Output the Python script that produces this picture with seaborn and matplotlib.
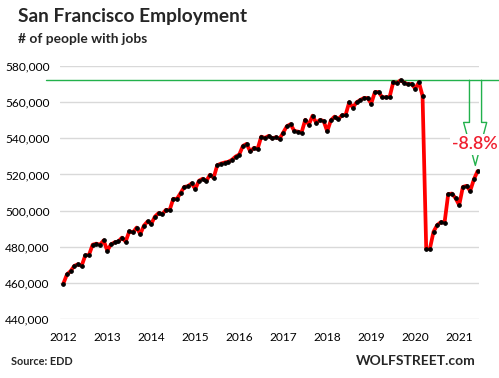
import numpy as np
import pandas as pd
import matplotlib
matplotlib.use("Agg")
import matplotlib.pyplot as plt
import seaborn as sns
from matplotlib.transforms import blended_transform_factory
from matplotlib.ticker import FuncFormatter

# ---- data (monthly, Jan 2012 .. Jun 2021), number of people with jobs ----
jobs_2012_2013 = [459500, 464700, 466500, 469400, 470300, 469400, 475200, 475400,
                  481100, 481700, 481100, 483500, 477800, 481300, 482400, 482900,
                  485000, 482800, 488500, 487900]
jobs_2013_2015 = [490600, 487000, 491700, 494000, 492600, 496700, 498600, 498000,
                  500400, 500200, 506500, 506500, 509700, 513100, 513500, 515000,
                  512000, 516500, 517600]
jobs_2015_2016 = [516300, 519800, 518100, 525100, 526000, 526600, 527000, 528100,
                  529900, 531000, 535800, 536900, 532700, 534700, 534100, 540900,
                  540200, 541300, 539900]
jobs_2016_2018 = [540600, 539700, 543200, 546700, 547800, 544100, 543700, 543200,
                  550200, 547600, 552500, 548500, 550200, 549600, 543900, 550000,
                  552000, 550600, 552700, 552900]
jobs_2018_2020 = [559900, 557000, 559900, 561200, 562300, 562300, 559200, 565600,
                  565600, 562700, 562700, 562700, 571000, 570600, 572100, 570800,
                  569900, 570100, 567500, 571000, 563500]
jobs_2020_2021 = [478900, 478900, 488300, 492000, 493600, 493300, 509100, 509400,
                  506900, 503000, 513100, 513700, 510900, 517200, 521800]

employment = (jobs_2012_2013 + jobs_2013_2015 + jobs_2015_2016 +
              jobs_2016_2018 + jobs_2018_2020 + jobs_2020_2021)
year_labels = ["2012", "2013", "2014", "2015", "2016", "2017", "2018", "2019", "2020", "2021"]
y_ticks = [440000, 460000, 480000, 500000, 520000, 540000, 560000, 580000]

title = "San Francisco Employment"
subtitle = "# of people with jobs"
source = "Source: EDD"
brand = "WOLFSTREET.com"

# ---- styling ----
sns.set_theme(style="white")
plt.rcParams['font.family'] = ['Lato', 'DejaVu Sans']

RED = "#ff0000"
GREEN = "#22b14c"
W, H = 499, 378

fig = plt.figure(figsize=(W / 100, H / 100), dpi=100)
ax = fig.add_axes([60 / W, 1 - 319 / H, 419 / W, 253 / H])

df = pd.DataFrame({"month": np.arange(len(employment)), "jobs": employment})
sns.lineplot(data=df, x="month", y="jobs", ax=ax, color=RED, linewidth=2.7,
             marker="o", markersize=2.6, markerfacecolor="black",
             markeredgecolor="black", zorder=4)

ax.set_ylim(y_ticks[0], y_ticks[-1])
ax.set_yticks(y_ticks)
ax.yaxis.set_major_formatter(FuncFormatter(lambda v, p: f"{int(v):,}"))
ax.set_xlim(-0.9, len(employment) - 0.6)
ax.set_xticks([12 * i for i in range(len(year_labels))])
ax.set_xticklabels(year_labels)
ax.set_xlabel("")
ax.set_ylabel("")
ax.set_axisbelow(True)
ax.yaxis.grid(True, color="#d9d9d9", linewidth=1)
ax.xaxis.grid(False)
for s in ax.spines.values():
    s.set_visible(False)
ax.tick_params(axis="both", length=0, labelsize=8.6, colors="black")
ax.tick_params(axis="y", pad=7.5)
ax.tick_params(axis="x", pad=9.5)

# peak reference line
peak = max(employment)
last = employment[-1]
last_i = len(employment) - 1
tr = blended_transform_factory(fig.transFigure, ax.transData)
ax.plot([46 / W, 1.0], [peak, peak], transform=tr, color=GREEN, lw=1,
        clip_on=False, zorder=3)

# block arrow outline from peak toward latest value
drop = peak - last
arrow_x = [last_i - 2.2, last_i - 2.2, last_i - 3.8, last_i - 0.6,
           last_i + 2.5, last_i + 1.1, last_i + 1.1]
arrow_y = [peak, peak - 0.464 * drop, peak - 0.464 * drop, peak - 0.937 * drop,
           peak - 0.464 * drop, peak - 0.464 * drop, peak]
ax.plot(arrow_x, arrow_y, color=GREEN, lw=1, clip_on=False, zorder=3)

pct = (last / peak - 1) * 100
ax.text(last_i - 0.6, peak - 0.705 * drop, f"{pct:.1f}%", color="#f02030",
        fontsize=12.8, fontweight="semibold", ha="center", va="center",
        zorder=6, clip_on=False,
        bbox=dict(boxstyle="square,pad=0.15", fc="white", ec="none"))

# titles and footer
fig.text(18 / W, 1 - 22 / H, title, fontsize=13.8, fontweight="bold",
         ha="left", va="baseline")
fig.text(18 / W, 1 - 43.3 / H, subtitle, fontsize=9.9, fontweight="bold",
         ha="left", va="baseline")
fig.text(11 / W, 1 - 365 / H, source, fontsize=7.8, fontweight="bold",
         ha="left", va="baseline")
fig.text(476 / W, 1 - 365 / H, brand, fontsize=10, fontweight="bold",
         ha="right", va="baseline")

fig.savefig("out.png", dpi=100)
